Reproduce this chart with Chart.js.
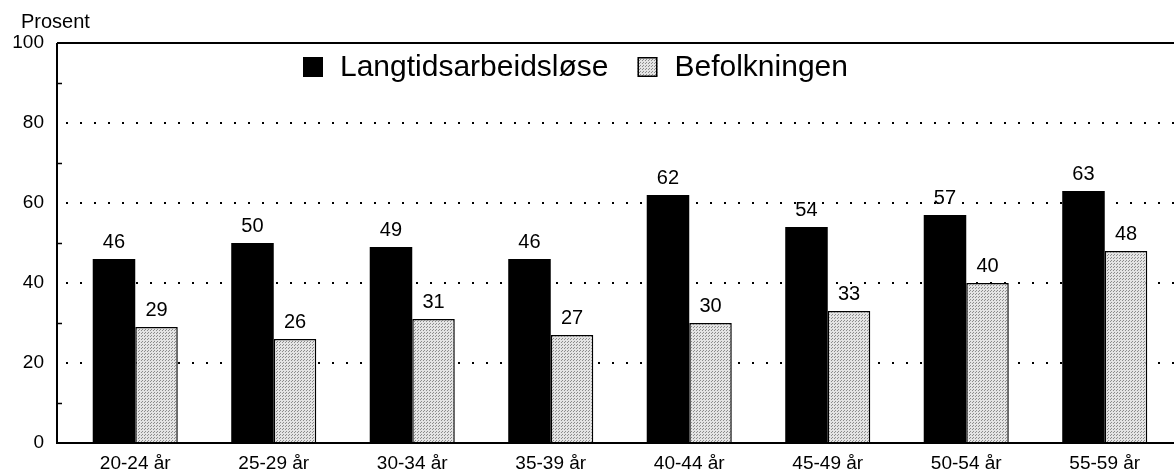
<!DOCTYPE html>
<html>
<head>
<meta charset="utf-8">
<script src="https://cdn.jsdelivr.net/npm/chart.js@4/dist/chart.umd.min.js"></script>
<style>
  html, body { margin: 0; padding: 0; background: #fff; overflow: hidden; }
  canvas { display: block; }
</style>
</head>
<body>
<canvas id="chart" width="1174" height="471"></canvas>
<script>
// ---- data ----
const categories = ['20-24 år', '25-29 år', '30-34 år', '35-39 år', '40-44 år', '45-49 år', '50-54 år', '55-59 år'];
const langtid = [46, 50, 49, 46, 62, 54, 57, 63];
const befolkning = [29, 26, 31, 27, 30, 33, 40, 48];
const seriesNames = ['Langtidsarbeidsløse', 'Befolkningen'];
const yTicks = [0, 20, 40, 60, 80, 100];
const yMinorTicks = [10, 30, 50, 70, 90];
const yTitle = 'Prosent';

const FONT = '"Liberation Sans", Arial, Helvetica, sans-serif';

// stippled light grey fill, like the printed screen tone
const makeStipple = () => {
  const c = document.createElement('canvas');
  c.width = 3; c.height = 3;
  const g = c.getContext('2d');
  g.fillStyle = '#e4e4e4';
  g.fillRect(0, 0, 3, 3);
  g.fillStyle = '#8c8c8c';
  g.fillRect(0, 0, 1, 1);
  g.fillRect(1, 2, 1, 1);
  return g.createPattern(c, 'repeat');
};
const stipple = makeStipple();

// axis frame, minor ticks, value labels, legend and y title
const decor = {
  id: 'decor',
  afterDatasetsDraw(chart) {
    const { ctx, chartArea: a, scales: { y } } = chart;
    const axisX = a.left - 9;
    ctx.save();
    ctx.strokeStyle = '#000';
    ctx.lineWidth = 2;
    ctx.beginPath();
    ctx.moveTo(axisX, y.getPixelForValue(100));
    ctx.lineTo(a.right, y.getPixelForValue(100));
    ctx.moveTo(axisX, y.getPixelForValue(100));
    ctx.lineTo(axisX, y.getPixelForValue(0));
    ctx.lineTo(a.right, y.getPixelForValue(0));
    ctx.stroke();

    ctx.lineWidth = 1.5;
    ctx.beginPath();
    yMinorTicks.forEach((v) => {
      const py = Math.round(y.getPixelForValue(v)) + 0.5;
      ctx.moveTo(axisX, py);
      ctx.lineTo(axisX + 5, py);
    });
    ctx.stroke();

    // value labels above bars
    ctx.fillStyle = '#000';
    ctx.font = '20px ' + FONT;
    ctx.textAlign = 'center';
    ctx.textBaseline = 'alphabetic';
    chart.data.datasets.forEach((ds, di) => {
      chart.getDatasetMeta(di).data.forEach((bar, i) => {
        ctx.fillText(String(ds.data[i]), bar.x, bar.y - 11);
      });
    });

    // legend inside the plot
    ctx.font = '30px ' + FONT;
    ctx.textAlign = 'left';
    ctx.textBaseline = 'middle';
    let lx = 303;
    const ly = 57;
    chart.data.datasets.forEach((ds, di) => {
      ctx.fillStyle = ds.backgroundColor;
      ctx.fillRect(lx, ly, 20, 20);
      if (di > 0) {
        ctx.lineWidth = 1.5;
        ctx.strokeStyle = '#000';
        ctx.strokeRect(lx + 0.75, ly + 0.75, 18.5, 18.5);
      }
      ctx.fillStyle = '#000';
      ctx.fillText(ds.label, lx + 37, ly + 11);
      lx += 37 + ctx.measureText(ds.label).width + 29;
    });

    // y title
    ctx.font = '20px ' + FONT;
    ctx.textBaseline = 'alphabetic';
    ctx.fillText(yTitle, 21, 28);
    ctx.restore();
  },
};

new Chart(document.getElementById('chart'), {
  type: 'bar',
  data: {
    labels: categories,
    datasets: [
      { label: seriesNames[0], data: langtid, backgroundColor: '#000', borderWidth: 0 },
      { label: seriesNames[1], data: befolkning, backgroundColor: stipple, borderColor: '#000', borderWidth: 1.5 },
    ],
  },
  options: {
    responsive: false,
    animation: false,
    layout: { padding: { top: 43, right: 0, bottom: 0, left: 0 } },
    datasets: { bar: { barPercentage: 1, categoryPercentage: 0.614 } },
    plugins: {
      legend: { display: false },
      tooltip: { enabled: false },
    },
    scales: {
      x: {
        grid: { display: false },
        border: { display: false },
        ticks: { color: '#000', font: { family: FONT, size: 19 }, padding: 1, maxRotation: 0 },
        afterFit: (s) => { s.height = 28; },
      },
      y: {
        min: 0,
        max: 100,
        afterBuildTicks: (s) => { s.ticks = yTicks.map((v) => ({ value: v })); },
        grid: {
          drawTicks: false,
          lineWidth: 2,
          color: (c) => (c.tick && (c.tick.value === 0 || c.tick.value === 100) ? 'rgba(0,0,0,0)' : '#000'),
        },
        border: { display: false, dash: [2, 12] },
        ticks: { color: '#000', font: { family: FONT, size: 19 }, padding: 22 },
        afterFit: (s) => { s.width = 66; s.paddingTop = 0; s.paddingBottom = 0; },
      },
    },
  },
  plugins: [decor],
});
</script>
</body>
</html>
